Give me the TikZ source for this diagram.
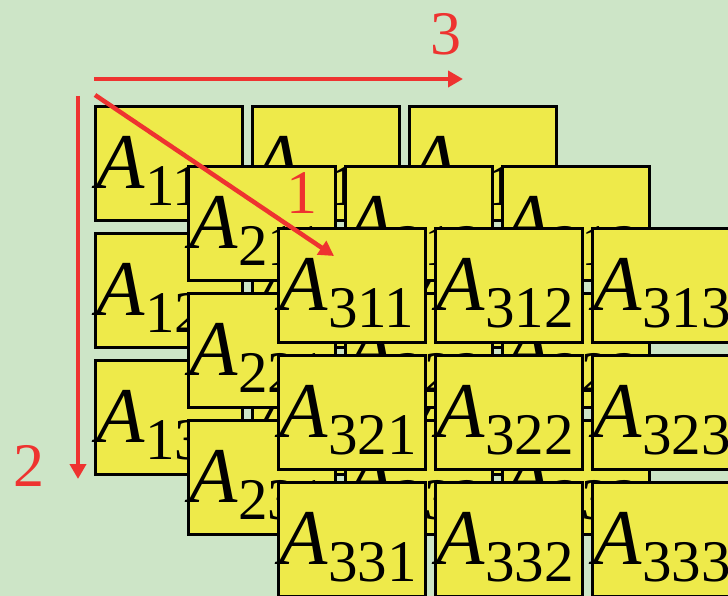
\documentclass[tikz,border=0pt]{standalone}
\usepackage{fontspec}
\setmainfont{Liberation Serif}
\usepackage{xcolor}
\usepackage{tikz}
\usetikzlibrary{arrows.meta}
\definecolor{bggreen}{HTML}{CDE5C7}
\definecolor{cellyellow}{HTML}{EEEA4A}
\definecolor{axisred}{HTML}{EE3330}
\newcommand{\elem}[1]{\hspace{1pt}\textit{A}\raisebox{-17pt}{\fontsize{59}{59}\selectfont #1}}

\begin{document}
\begin{tikzpicture}[
      x=1pt, y=-1pt,
      >={Triangle[length=15pt, width=16pt]},
      cell/.style={draw, line width=3pt, fill=cellyellow, anchor=north west, inner sep=0pt,
        text width=147pt, text height=82pt, text depth=32pt, align=left,
        font=\fontsize{79}{79}\selectfont},
      axis/.style={draw=axisred, line width=4.5pt},
      axlbl/.style={text=axisred, inner sep=0pt, font=\fontsize{62}{62}\selectfont}]
    \useasboundingbox (0,0) rectangle (728,596);
    \clip (0,0) rectangle (728,596);
    \fill[bggreen] (0,0) rectangle (728,596);
    % three layers, back to front
    \foreach \l/\x/\y in {1/94/105, 2/187/165, 3/277/227} {
      \foreach \r in {1,2,3} {
        \foreach \c in {1,2,3} {
          \node[cell] (a\l\r\c) at ({\x+157*(\c-1)}, {\y+127*(\r-1)}) {\elem{\l\r\c}};
        }
      }
    }
    % index directions
    \coordinate (h0) at (94,79);
    \coordinate (h1) at (463,79);
    \coordinate (v0) at (78,96);
    \coordinate (v1) at (78,479);
    \coordinate (d0) at (95,95);
    \coordinate (d1) at (334,256);
    \draw[axis, ->] (h0) -- (h1);
    \draw[axis, ->] (v0) -- (v1);
    \draw[axis, ->] (d0) -- (d1);
    \node[axlbl] (n3) at (446,34) {3};
    \node[axlbl] (n2) at (29,466) {2};
    \node[axlbl] (n1) at (302,193) {1};
  \end{tikzpicture}
\end{document}
